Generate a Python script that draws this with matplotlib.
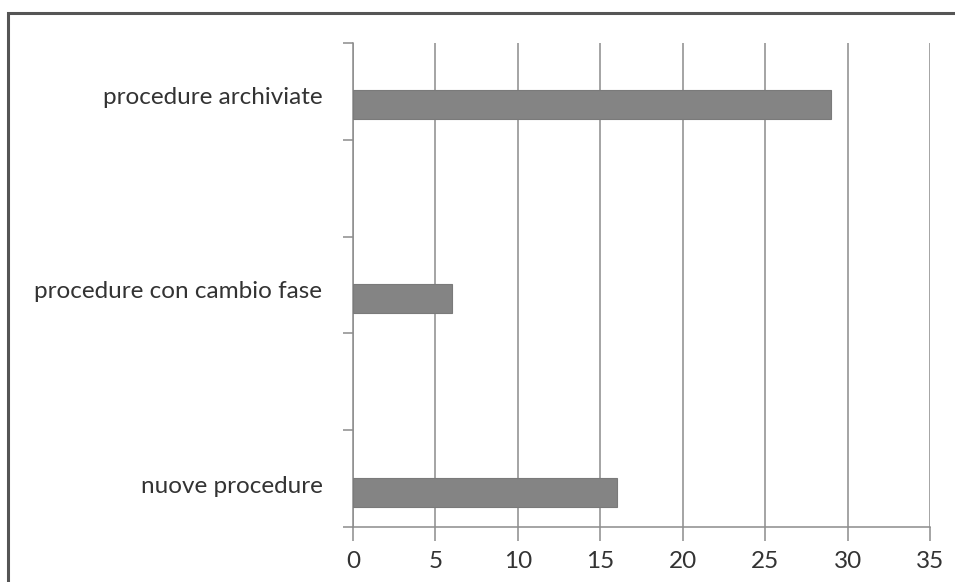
import matplotlib
matplotlib.use('Agg')
import matplotlib.pyplot as plt
from matplotlib.patches import Rectangle

# dati del grafico
categorie = ['nuove procedure', 'procedure con cambio fase', 'procedure archiviate']
valori = [16, 6, 29]
pos_barre = [0.36, 2.36, 4.36]   # posizione delle barre sull'asse y (5 intervalli)
pos_etichette = [0.44, 2.45, 4.46]
x_ticks = [0, 5, 10, 15, 20, 25, 30, 35]

plt.rcParams['font.family'] = ['Lato', 'DejaVu Sans']

fig = plt.figure(figsize=(9.55, 5.82), dpi=100)
ax = fig.add_axes([353/955, 55/582, 577/955, 484/582])

ax.barh(pos_barre, valori, height=0.3, color='#848484', edgecolor='#7a7a7a', linewidth=0.8, zorder=3)

ax.set_xlim(0, 35)
ax.set_ylim(0, 5)
ax.set_xticks(x_ticks)
ax.set_xticklabels([str(t) for t in x_ticks], fontsize=17.5, color='#333333')
ax.xaxis.grid(True, color='#8c8c8c', linewidth=1.1, zorder=0)

# tacche maggiori senza etichetta, etichette sulle minori
ax.set_yticks([0, 1, 2, 3, 4, 5])
ax.set_yticklabels([])
ax.set_yticks(pos_etichette, minor=True)
ax.set_yticklabels(categorie, minor=True, fontsize=17.5, color='#333333')
ax.tick_params(axis='y', which='minor', length=0, pad=22)
ax.tick_params(axis='y', which='major', length=7, width=1.1, color='#8c8c8c')
ax.tick_params(axis='x', length=10, width=1.1, color='#8c8c8c', pad=7)

for s in ['top', 'right']:
    ax.spines[s].set_visible(False)
for s in ['left', 'bottom']:
    ax.spines[s].set_color('#8c8c8c')
    ax.spines[s].set_linewidth(1.1)

# cornice esterna
fig.patches.append(Rectangle((8/955, -0.05), 1.0, 1.05 - 13/582, transform=fig.transFigure,
                             fill=False, edgecolor='#555555', linewidth=2.2))

fig.savefig('out.png', dpi=100)
